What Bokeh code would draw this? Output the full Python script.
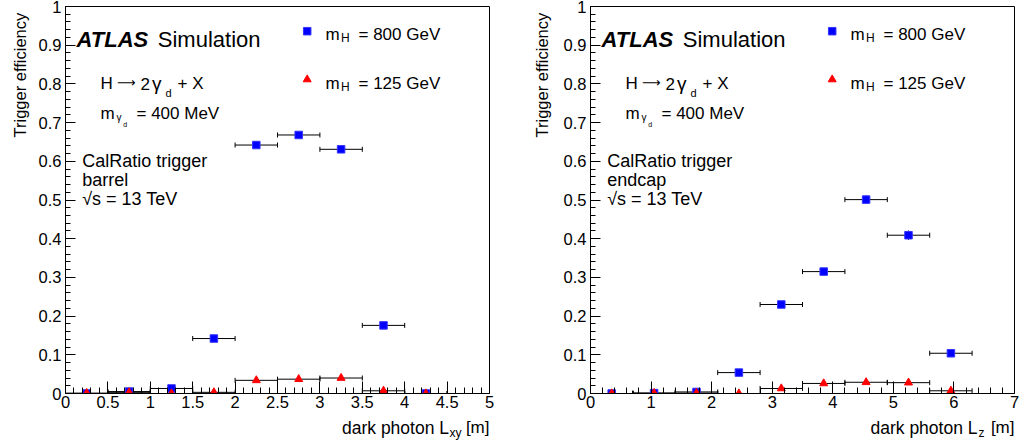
import numpy as np
from math import pi
from bokeh.plotting import figure
from bokeh.models import Range1d, FixedTicker, Label, ColumnDataSource
from bokeh.layouts import row, column
from bokeh.embed import file_html
from bokeh.resources import INLINE

FONT = "Liberation Sans"

# ---------------- data ----------------
# barrel: dark photon Lxy [m], bins of 0.5 m
lxy_centers = [0.25, 0.75, 1.25, 1.75, 2.25, 2.75, 3.25, 3.75, 4.25]
lxy_halfwidth = 0.25
lxy_eff_800 = [0.0, 0.005, 0.013, 0.142, 0.642, 0.668, 0.631, 0.176, 0.0]
lxy_err_800 = [0.0, 0.002, 0.003, 0.005, 0.006, 0.006, 0.006, 0.005, 0.0]
lxy_eff_125 = [0.001, 0.003, 0.0, 0.003, 0.034, 0.037, 0.040, 0.007, 0.0]
lxy_err_125 = [0.0, 0.001, 0.0, 0.001, 0.002, 0.002, 0.002, 0.001, 0.0]

# endcap: dark photon Lz [m], bins of 0.7 m
lz_centers = [0.35, 1.05, 1.75, 2.45, 3.15, 3.85, 4.55, 5.25, 5.95]
lz_halfwidth = 0.35
lz_eff_800 = [0.0, 0.001, 0.004, 0.054, 0.230, 0.315, 0.501, 0.409, 0.104]
lz_err_800 = [0.0, 0.0, 0.001, 0.003, 0.005, 0.008, 0.011, 0.012, 0.006]
lz_eff_125 = [0.0, 0.001, 0.001, 0.0, 0.013, 0.026, 0.029, 0.028, 0.007]
lz_err_125 = [0.0, 0.0, 0.0, 0.0, 0.001, 0.002, 0.002, 0.002, 0.001]

y_ticks = [0.0, 0.1, 0.2, 0.3, 0.4, 0.5, 0.6, 0.7, 0.8, 0.9, 1.0]
y_labels = ["0", "0.1", "0.2", "0.3", "0.4", "0.5", "0.6", "0.7", "0.8", "0.9", "1"]
lxy_ticks = [0.0, 0.5, 1.0, 1.5, 2.0, 2.5, 3.0, 3.5, 4.0, 4.5, 5.0]
lxy_labels = ["0", "0.5", "1", "1.5", "2", "2.5", "3", "3.5", "4", "4.5", "5"]
lz_ticks = [0.0, 1.0, 2.0, 3.0, 4.0, 5.0, 6.0, 7.0]
lz_labels = ["0", "1", "2", "3", "4", "5", "6", "7"]

FRAME_W = 424.0
FRAME_H = 387.0
FRAME_TOP = 6.0
MAIN_H = 414
XT_H = 441 - MAIN_H


def draw_series(p, centers, hw, eff, err):
    c = np.array(centers)
    v = np.array(eff)
    e = np.array(err)
    src = ColumnDataSource(dict(x=c, y=v, lo=c - hw, hi=c + hw))
    p.segment(x0="lo", y0="y", x1="hi", y1="y", source=src, line_color="black", line_width=1)
    p.scatter(x="lo", y="y", source=src, marker="dash", angle=pi / 2, size=5,
              line_color="black", line_width=1)
    p.scatter(x="hi", y="y", source=src, marker="dash", angle=pi / 2, size=5,
              line_color="black", line_width=1)
    m = e > 0
    vsrc = ColumnDataSource(dict(x=c[m], ylo=(v - e)[m], yhi=(v + e)[m]))
    p.segment(x0="x", y0="ylo", x1="x", y1="yhi", source=vsrc, line_color="black", line_width=1)


def text_fig(width, height):
    f = figure(width=width, height=height, x_range=Range1d(0, width), y_range=Range1d(0, height),
               output_backend="svg", toolbar_location=None,
               x_axis_location=None, y_axis_location=None,
               min_border_left=0, min_border_right=0, min_border_top=0, min_border_bottom=0)
    f.xgrid.visible = False
    f.ygrid.visible = False
    f.outline_line_color = None
    f.background_fill_color = "white"
    f.border_fill_color = "white"
    return f


def lab(f, s, x, y, size, style="normal", align="left", angle=0.0, font=FONT):
    f.add_layout(Label(x=x, y=y, text=s, text_font=font, text_font_size=size,
                       text_font_style=style, text_align=align, text_baseline="alphabetic",
                       angle=angle, text_color="black"))


def make_panel(width, bl, br, xmax, xticks, xlabels, xminor, centers, hw,
               e800, r800, e125, r125, region):
    p = figure(width=width, height=MAIN_H, x_range=Range1d(0, xmax), y_range=Range1d(0, 1),
               output_backend="svg", toolbar_location=None,
               min_border_left=bl, min_border_right=br, min_border_top=6, min_border_bottom=21)
    p.xgrid.visible = False
    p.ygrid.visible = False
    p.outline_line_color = "black"
    p.outline_line_width = 1
    p.background_fill_color = "white"
    p.border_fill_color = "white"

    for ax, ticks, labels, minor, mj, mn in (
            (p.xaxis[0], xticks, xlabels, xminor, 12, 6),
            (p.yaxis[0], y_ticks, y_labels, [i * 0.02 for i in range(51)], 10, 5)):
        ax.ticker = FixedTicker(ticks=ticks, minor_ticks=minor)
        ax.major_label_overrides = {t: l for t, l in zip(ticks, labels)}
        ax.major_tick_in = mj
        ax.major_tick_out = 0
        ax.minor_tick_in = mn
        ax.minor_tick_out = 0
        ax.axis_line_color = "black"
        ax.major_tick_line_color = "black"
        ax.minor_tick_line_color = "black"
        ax.major_label_text_font = FONT
        ax.major_label_text_font_size = "16.5px"
        ax.major_label_text_color = "black"
    p.xaxis[0].major_label_standoff = 2
    p.yaxis[0].major_label_standoff = 4

    draw_series(p, centers, hw, e800, r800)
    draw_series(p, centers, hw, e125, r125)
    p.scatter(x=centers, y=e800, marker="square", size=7.5, fill_color="#0000ff",
              line_color="#3333ff")
    p.scatter(x=centers, y=e125, marker="triangle", size=8, fill_color="#ff0000",
              line_color="#ff0000")

    pxu = FRAME_W / xmax

    def X(rel):
        return rel / pxu

    def Y(absy):
        return 1.0 - (absy - FRAME_TOP) / FRAME_H

    def txt(s, rel, absy, size, style="normal", font=FONT):
        lab(p, s, X(rel), Y(absy), size, style, font=font)

    # ATLAS Simulation
    txt("ATLAS", 11, 39, "22px", "bold italic")
    txt("Simulation", 92.3, 39, "22px")
    # legend
    p.scatter(x=[X(241.7)], y=[Y(30.7)], marker="square", size=7.5,
              fill_color="#0000ff", line_color="#3333ff")
    p.scatter(x=[X(241.7)], y=[Y(79)], marker="triangle", size=8,
              fill_color="#ff0000", line_color="#ff0000")
    for by, s in ((34, "= 800 GeV"), (82.7, "= 125 GeV")):
        txt("m", 260, by, "17px")
        txt("H", 275.5, by + 3.5, "12px")
        txt(s, 293, by, "17px")
    # process
    txt("H", 35, 83.3, "17px")
    txt("\u27f6", 51.5, 82.3, "13px", font="DejaVu Sans")
    txt("2", 75, 83.3, "17px")
    txt("\u03b3", 86.5, 83.3, "19px")
    txt("d", 100, 92, "11px")
    txt("+ X", 112, 83.3, "17px")
    txt("m", 35, 113.3, "17px")
    txt("\u03b3", 51, 117, "10px")
    txt("d", 57.7, 124, "7px")
    txt("= 400 MeV", 71, 113.3, "17px")
    # trigger info
    txt("CalRatio trigger", 16.7, 160.7, "18px")
    txt(region, 16.7, 179.5, "18px")
    txt("\u221as = 13 TeV", 16.7, 198.5, "18px")
    return p


# y title strips
YL1_W = 34
YL2_W = 46
yl1 = text_fig(YL1_W, MAIN_H)
lab(yl1, "Trigger efficiency", 19, MAIN_H - 6.7, "16.5px", align="right", angle=pi / 2)
yl2 = text_fig(YL2_W, MAIN_H)
lab(yl2, "Trigger efficiency", 541 - 509, MAIN_H - 6.7, "16.5px", align="right", angle=pi / 2)

p1 = make_panel(509 - YL1_W, 65 - YL1_W, 20, 5, lxy_ticks, lxy_labels,
                [i * 0.1 for i in range(51)],
                lxy_centers, lxy_halfwidth, lxy_eff_800, lxy_err_800,
                lxy_eff_125, lxy_err_125, "barrel")
p2 = make_panel(510 - YL2_W, 590 - 509 - YL2_W, 5, 7, lz_ticks, lz_labels,
                [i * 0.2 for i in range(36)],
                lz_centers, lz_halfwidth, lz_eff_800, lz_err_800,
                lz_eff_125, lz_err_125, "endcap")

# x title strips
xt1 = text_fig(509, XT_H)
lab(xt1, "dark photon L", 448.5, 441 - 427, "17.5px", align="right")
lab(xt1, "xy", 449, 441 - 432, "12px")
lab(xt1, "[m]", 489, 441 - 427, "17px", align="right")
xt2 = text_fig(510, XT_H)
lab(xt2, "dark photon L", 977 - 509, 441 - 427, "17.5px", align="right")
lab(xt2, "z", 978 - 509, 441 - 432, "12px")
lab(xt2, "[m]", 1014 - 509, 441 - 427, "17px", align="right")

layout = column(row(yl1, p1, yl2, p2), row(xt1, xt2))
open("out.html", "w").write(file_html(layout, INLINE))
